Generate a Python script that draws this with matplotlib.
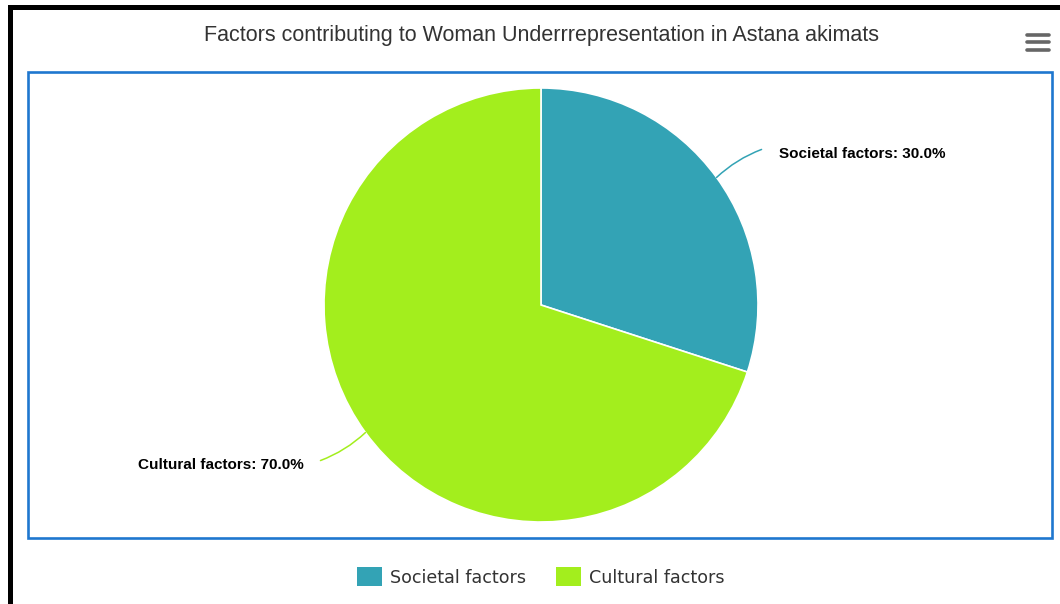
import numpy as np
import matplotlib.pyplot as plt
from matplotlib.patches import Rectangle

W, H = 1060, 604

title = 'Factors contributing to Woman Underrrepresentation in Astana akimats'
labels = ['Societal factors', 'Cultural factors']
shares = [30.0, 70.0]
colors = ['#33a3b5', '#a3ee1d']


def py(y):
    # pixel row (from top) -> data y
    return H - y


fig = plt.figure(figsize=(W / 100, H / 100), dpi=100)
ax = fig.add_axes([0, 0, 1, 1])

cx, cy, r = 541, py(305), 217
wedges, _ = ax.pie(shares, colors=colors, startangle=90, counterclock=False,
                   center=(cx, cy), radius=r,
                   wedgeprops=dict(edgecolor='white', linewidth=1.2))
ax.set_xlim(0, W)
ax.set_ylim(0, H)
ax.set_aspect('auto')
ax.axis('off')

# data labels with curved connectors
for w, lab, val, col in zip(wedges, labels, shares, colors):
    mid = np.deg2rad((w.theta1 + w.theta2) / 2)
    x0 = cx + r * np.cos(mid)
    y0 = cy + r * np.sin(mid)
    side = 1 if np.cos(mid) > 0 else -1
    x1 = x0 + side * 45
    y1 = y0 + np.sign(np.sin(mid)) * 28
    ax.annotate('', xy=(x1, y1), xytext=(x0, y0),
                arrowprops=dict(arrowstyle='-', color=col, lw=1.1,
                                connectionstyle='arc3,rad=-0.1',
                                shrinkA=0, shrinkB=0))
    ax.text(x1 + side * 17, y1 - 4.5, f'{lab}: {val:.1f}%',
            ha='left' if side > 0 else 'right', va='center',
            fontsize=11, fontweight='bold', family='Liberation Sans',
            color='#000000')

ax.text(541, py(35), title, ha='center', va='center', fontsize=15.5,
        family='Liberation Sans', color='#333333')

# legend
lx = 357
for lab, col in zip(labels, colors):
    ax.add_patch(Rectangle((lx, py(586)), 25, 19, facecolor=col, edgecolor='none'))
    ax.text(lx + 33, py(578), lab, ha='left', va='center', fontsize=12.6,
            family='DejaVu Sans', color='#333333')
    lx += 199

# plot area border
ax.add_patch(Rectangle((28.3, py(537.5)), 1052.3 - 28.3, 537.5 - 72.3,
                       fill=False, edgecolor='#1f77cf', linewidth=1.9))

# outer frame (top and left)
ax.add_patch(Rectangle((8, py(10)), W - 8, 5, facecolor='black', edgecolor='none'))
ax.add_patch(Rectangle((8, 0), 5, py(5), facecolor='black', edgecolor='none'))

# menu button
for yb in [35, 42.3, 50]:
    ax.plot([1027, 1049], [py(yb)] * 2, color='#666666', lw=2.6,
            solid_capstyle='round')

fig.savefig('out.png', dpi=100)
